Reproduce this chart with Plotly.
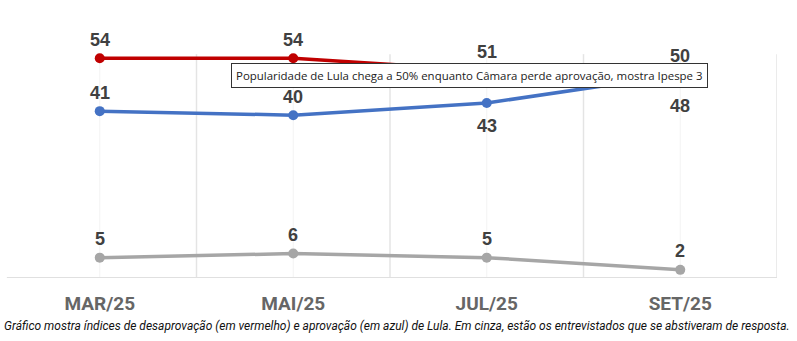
import plotly.graph_objects as go

months = ["MAR/25", "MAI/25", "JUL/25", "SET/25"]
desaprovacao = [54, 54, 51, 48]
aprovacao = [41, 40, 43, 50]
nao_sabe = [5, 6, 5, 2]

# label placement: 1 = above the point, -1 = below
red_pos = [1, 1, 1, -1]
blue_pos = [1, 1, -1, 1]
gray_pos = [1, 1, 1, 1]

fig = go.Figure()
x = list(range(len(months)))

def add(vals, color, pos):
    fig.add_trace(go.Scatter(
        x=x, y=vals, mode="lines+markers",
        line=dict(color=color, width=3.5),
        marker=dict(color=color, size=10),
        cliponaxis=False, hoverinfo="skip", showlegend=False))
    for xi, v, p in zip(x, vals, pos):
        fig.add_annotation(
            x=xi, y=v, xref="x", yref="y", text=str(v), showarrow=False,
            yshift=18.5 if p > 0 else -23, xanchor="center", yanchor="middle",
            font=dict(family="Liberation Sans, Arial", size=18, color="#404040",
                      weight="bold"))

# gridlines as shapes
for b in [0.5, 1.5, 2.5, 3.5]:
    fig.add_shape(type="line", x0=b, x1=b, y0=0, y1=55, xref="x", yref="y",
                  line=dict(color="#e4e4e4", width=1.5), layer="below")
for c in x:
    fig.add_shape(type="line", x0=c, x1=c, y0=0, y1=55, xref="x", yref="y",
                  line=dict(color="#f3f3f3", width=1), layer="below")
fig.add_shape(type="line", x0=-0.48, x1=3.5, y0=0, y1=0, xref="x", yref="y",
              line=dict(color="#e0e0e0", width=2), layer="below")

add(nao_sabe, "#a6a6a6", gray_pos)
add(aprovacao, "#4472c4", blue_pos)
add(desaprovacao, "#c00000", red_pos)

fig.add_annotation(
    text="Popularidade de Lula chega a 50% enquanto Câmara perde aprovação, mostra Ipespe 3",
    xref="paper", yref="paper", x=(231 - 3) / 774, y=(278 - 75) / 258,
    xanchor="left", yanchor="middle", showarrow=False,
    font=dict(family="Open Sans, Noto Sans", size=11.45, color="#222"),
    bgcolor="white", bordercolor="#333", borderwidth=1, borderpad=4)

fig.add_annotation(
    text="<i>Gráfico mostra índices de desaprovação (em vermelho) e aprovação (em azul) de Lula. Em cinza, estão os entrevistados que se abstiveram de resposta.</i>",
    xref="paper", yref="paper", x=(397 - 3) / 774, y=-(326 - 278) / 258,
    xanchor="center", yanchor="middle", showarrow=False,
    font=dict(family="Liberation Sans Narrow, Roboto", size=12, color="#111"))

fig.update_layout(
    width=797, height=341,
    margin=dict(l=3, r=20, t=20, b=63),
    paper_bgcolor="white", plot_bgcolor="white",
    xaxis=dict(range=[-0.5, 3.5], tickmode="array", tickvals=x, ticktext=months,
               showgrid=False, zeroline=False, showline=False, ticks="",
               tickfont=dict(family="Roboto", size=19, color="#666", weight="bold"),
               ticklabelstandoff=12),
    yaxis=dict(range=[0, 258 / 4.07], showgrid=False, zeroline=False,
               showticklabels=False, showline=False),
)

fig.write_html("out.html")
